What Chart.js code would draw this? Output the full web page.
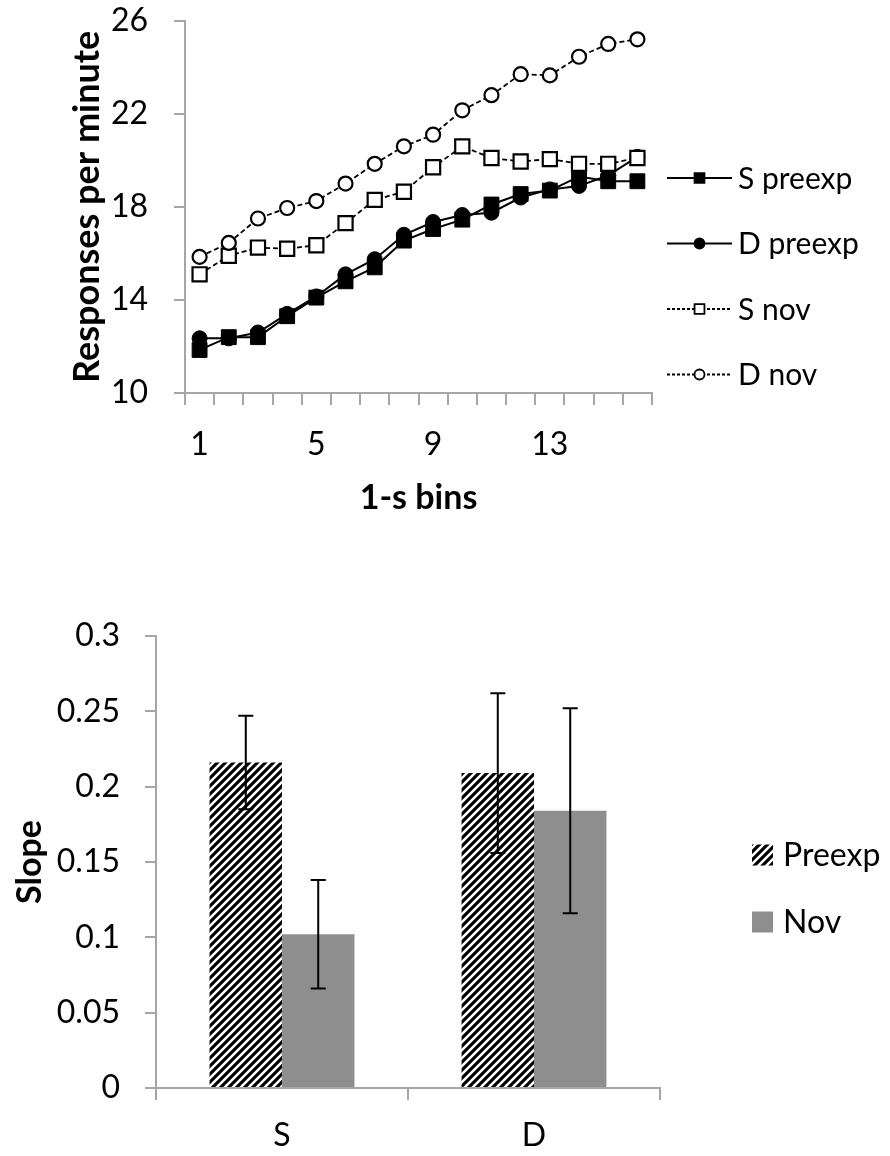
<!DOCTYPE html>
<html>
<head>
<meta charset="utf-8">
<script src="https://cdn.jsdelivr.net/npm/chart.js@4.4.1/dist/chart.umd.min.js"></script>
<style>
html,body{margin:0;padding:0;background:#fff;}
#wrap{position:relative;width:890px;height:1156px;overflow:hidden;}
#c1{position:absolute;left:0;top:0;}
#c2{position:absolute;left:0;top:540px;}
</style>
</head>
<body>
<div id="wrap">
<canvas id="c1" width="890" height="540"></canvas>
<canvas id="c2" width="890" height="616"></canvas>
</div>
<script>
// ---------- data: top chart ----------
const bins = ['1','2','3','4','5','6','7','8','9','10','11','12','13','14','15','16'];
const sPreexp = [11.85, 12.4, 12.4, 13.3, 14.1, 14.8, 15.4, 16.55, 17.05, 17.45, 18.1, 18.55, 18.7, 19.3, 19.1, 19.1];
const dPreexp = [12.35, 12.35, 12.6, 13.4, 14.15, 15.1, 15.75, 16.8, 17.35, 17.65, 17.75, 18.4, 18.75, 18.9, 19.35, 20.15];
const sNov    = [15.1, 15.9, 16.25, 16.2, 16.35, 17.3, 18.3, 18.65, 19.7, 20.6, 20.1, 19.95, 20.05, 19.85, 19.85, 20.1];
const dNov    = [15.85, 16.45, 17.5, 17.95, 18.25, 19.0, 19.85, 20.6, 21.1, 22.15, 22.8, 23.7, 23.65, 24.45, 25.0, 25.2];
const lineLabels = ['S preexp', 'D preexp', 'S nov', 'D nov'];
const topYMin = 10, topYMax = 26, topYStep = 4;
const shownBinLabels = ['1','5','9','13'];

// ---------- data: bottom chart ----------
const groups = ['S', 'D'];
const barLabels = ['Preexp', 'Nov'];
const preexpSlope = [0.216, 0.209];
const preexpErr   = [0.031, 0.053];
const novSlope    = [0.102, 0.184];
const novErr      = [0.036, 0.068];
const botYMin = 0, botYMax = 0.3, botYStep = 0.05;

// ---------- styling ----------
const FONT = 'Lato, "Open Sans", "DejaVu Sans", sans-serif';
const AXIS = '#a6a6a6';
Chart.defaults.font.family = FONT;
Chart.defaults.color = '#000';

function drawMarker(ctx, style, x, y, r, fill, stroke, bw) {
  ctx.save();
  ctx.fillStyle = fill; ctx.strokeStyle = stroke; ctx.lineWidth = bw; ctx.setLineDash([]);
  ctx.beginPath();
  if (style === 'rect') {
    const s = Math.SQRT1_2 * r;
    ctx.rect(x - s, y - s, 2 * s, 2 * s);
  } else {
    ctx.arc(x, y, r, 0, Math.PI * 2);
  }
  ctx.fill(); ctx.stroke();
  ctx.restore();
}

// legend for line chart (layout only; content from datasets)
const lineLegend = {
  id: 'lineLegend',
  afterDraw(chart, args, o) {
    const ctx = chart.ctx;
    ctx.save();
    chart.data.datasets.forEach((d, i) => {
      const y = o.y0 + i * o.gap;
      ctx.strokeStyle = d.borderColor;
      ctx.lineWidth = d.borderWidth;
      ctx.setLineDash(d.borderDash ? [3, 2] : []);
      ctx.beginPath();
      ctx.moveTo(o.x, y); ctx.lineTo(o.x + o.len, y);
      ctx.stroke();
      ctx.setLineDash([]);
      drawMarker(ctx, d.pointStyle, o.x + o.len / 2, y, d.pointStyle === 'rect' ? o.rectR : o.circR,
                 d.pointBackgroundColor, d.pointBorderColor, 1.8);
      ctx.fillStyle = '#000';
      ctx.font = o.fontSize + 'px ' + FONT;
      ctx.textBaseline = 'middle';
      ctx.textAlign = 'left';
      ctx.fillText(d.label, o.textX, y + 1);
    });
    ctx.restore();
  }
};

const c1 = document.getElementById('c1');
new Chart(c1, {
  type: 'line',
  data: {
    labels: bins,
    datasets: [
      { label: lineLabels[0], data: sPreexp, borderColor: '#000', borderWidth: 2, pointStyle: 'rect',
        pointRadius: 10.5, pointBackgroundColor: '#000', pointBorderColor: '#000', pointBorderWidth: 1, order: 4 },
      { label: lineLabels[1], data: dPreexp, borderColor: '#000', borderWidth: 2, pointStyle: 'circle',
        pointRadius: 7.5, pointBackgroundColor: '#000', pointBorderColor: '#000', pointBorderWidth: 1, order: 3 },
      { label: lineLabels[2], data: sNov, borderColor: '#000', borderWidth: 1.8, borderDash: [5, 3], pointStyle: 'rect',
        pointRadius: 10, pointBackgroundColor: '#fff', pointBorderColor: '#000', pointBorderWidth: 2.2, order: 2 },
      { label: lineLabels[3], data: dNov, borderColor: '#000', borderWidth: 1.8, borderDash: [5, 3], pointStyle: 'circle',
        pointRadius: 7, pointBackgroundColor: '#fff', pointBorderColor: '#000', pointBorderWidth: 2.2, order: 1 }
    ]
  },
  options: {
    responsive: false,
    animation: false,
    layout: { padding: { top: 20.7, right: 238, left: 0, bottom: 0 } },
    plugins: {
      legend: { display: false },
      tooltip: { enabled: false },
      lineLegend: { x: 667, len: 65, textX: 738, y0: 178, gap: 65.5, rectR: 7, circR: 5, fontSize: 30 }
    },
    elements: { line: { tension: 0 } },
    scales: {
      x: {
        offset: true,
        grid: { offset: true, drawOnChartArea: false, drawTicks: true, tickLength: 12, color: AXIS, lineWidth: 2 },
        border: { color: AXIS, width: 2 },
        ticks: {
          autoSkip: false, maxRotation: 0, padding: 20,
          font: { size: 32 },
          callback: function(v, i) { const l = this.getLabelForValue(v); return shownBinLabels.includes(l) ? l : ''; }
        },
        title: { display: true, text: '1-s bins', font: { size: 34, weight: 'bold' }, padding: { top: 0, bottom: 22 } },
        afterFit(s) { s.height = 147; s.paddingLeft = 0; s.paddingRight = 0; }
      },
      y: {
        min: topYMin, max: topYMax,
        grid: { drawOnChartArea: false, drawTicks: true, tickLength: 11, color: AXIS, lineWidth: 2 },
        border: { color: AXIS, width: 2 },
        ticks: { stepSize: topYStep, padding: 26, font: { size: 32 } },
        title: { display: true, text: 'Responses per minute', font: { size: 36, weight: 'bold' }, padding: { top: 66, bottom: 0 } },
        afterFit(s) { s.width = 185; s.paddingTop = 0; s.paddingBottom = 0; }
      }
    }
  },
  plugins: [lineLegend]
});

// ---------- bottom chart ----------
const c2 = document.getElementById('c2');
const ctx2 = c2.getContext('2d');
function makeHatch(ctx) {
  const p = 8;
  const c = document.createElement('canvas'); c.width = p; c.height = p;
  const g = c.getContext('2d');
  g.fillStyle = '#fff'; g.fillRect(0, 0, p, p);
  g.strokeStyle = '#000'; g.lineWidth = 3.1;
  g.beginPath();
  g.moveTo(-1, p + 1); g.lineTo(p + 1, -1);
  g.moveTo(-p / 2 - 1, p / 2 + 1); g.lineTo(p / 2 + 1, -p / 2 - 1);
  g.moveTo(p / 2 - 1, p * 1.5 + 1); g.lineTo(p * 1.5 + 1, p / 2 - 1);
  g.stroke();
  return ctx.createPattern(c, 'repeat');
}
const hatch = makeHatch(ctx2);
const errSets = [preexpErr, novErr];

const errorBars = {
  id: 'errorBars',
  afterDatasetsDraw(chart) {
    const ctx = chart.ctx, ys = chart.scales.y;
    ctx.save();
    ctx.strokeStyle = '#000'; ctx.lineWidth = 2;
    chart.data.datasets.forEach((d, i) => {
      const meta = chart.getDatasetMeta(i);
      meta.data.forEach((bar, j) => {
        const v = d.data[j], e = errSets[i][j];
        const yt = ys.getPixelForValue(v + e), yb = ys.getPixelForValue(v - e);
        ctx.beginPath();
        ctx.moveTo(bar.x, yt); ctx.lineTo(bar.x, yb);
        ctx.moveTo(bar.x - 7.5, yt); ctx.lineTo(bar.x + 7.5, yt);
        ctx.moveTo(bar.x - 7.5, yb); ctx.lineTo(bar.x + 7.5, yb);
        ctx.stroke();
      });
    });
    ctx.restore();
  }
};

const barLegend = {
  id: 'barLegend',
  afterDraw(chart, args, o) {
    const ctx = chart.ctx;
    ctx.save();
    chart.data.datasets.forEach((d, i) => {
      const y = o.y0 + i * o.gap;
      ctx.fillStyle = d.backgroundColor;
      ctx.fillRect(o.x, y - o.box / 2, o.box, o.box);
      ctx.fillStyle = '#000';
      ctx.font = o.fontSize + 'px ' + FONT;
      ctx.textBaseline = 'middle';
      ctx.textAlign = 'left';
      ctx.fillText(d.label, o.textX, y + 1);
    });
    ctx.restore();
  }
};

new Chart(c2, {
  type: 'bar',
  data: {
    labels: groups,
    datasets: [
      { label: barLabels[0], data: preexpSlope, backgroundColor: hatch, borderWidth: 0 },
      { label: barLabels[1], data: novSlope, backgroundColor: '#8e8e8e', borderWidth: 0 }
    ]
  },
  options: {
    responsive: false,
    animation: false,
    layout: { padding: { top: 96, right: 230, left: 0, bottom: 0 } },
    datasets: { bar: { categoryPercentage: 0.575, barPercentage: 1.0 } },
    plugins: {
      legend: { display: false },
      tooltip: { enabled: false },
      barLegend: { x: 752, box: 21, textX: 783, y0: 315, gap: 67, fontSize: 32 }
    },
    scales: {
      x: {
        grid: { offset: true, drawOnChartArea: false, drawTicks: true, tickLength: 12, color: AXIS, lineWidth: 2 },
        border: { color: AXIS, width: 2 },
        ticks: { padding: 16, font: { size: 32 } },
        afterFit(s) { s.height = 68; s.paddingLeft = 0; s.paddingRight = 0; }
      },
      y: {
        min: botYMin, max: botYMax,
        grid: { drawOnChartArea: false, drawTicks: true, tickLength: 11, color: AXIS, lineWidth: 2 },
        border: { color: AXIS, width: 2 },
        ticks: { stepSize: botYStep, padding: 25, font: { size: 32 },
                 callback: (v) => String(parseFloat(Number(v).toFixed(2))) },
        title: { display: true, text: 'Slope', font: { size: 34, weight: 'bold' }, padding: { top: 9.6, bottom: 0 } },
        afterFit(s) { s.width = 156; s.paddingTop = 0; s.paddingBottom = 0; }
      }
    }
  },
  plugins: [errorBars, barLegend]
});
</script>
</body>
</html>
